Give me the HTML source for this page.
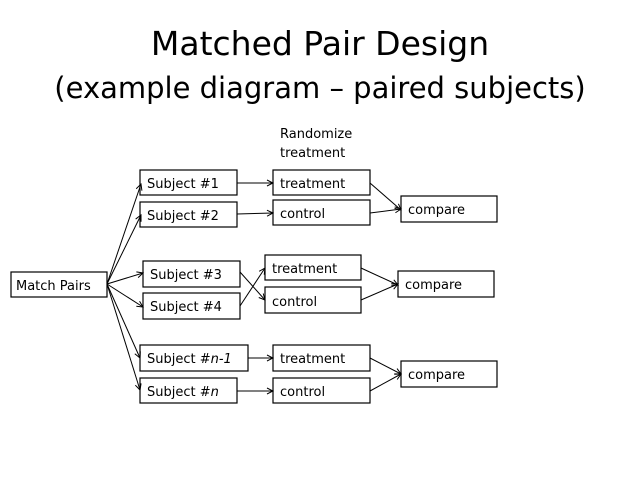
<!DOCTYPE html>
<html><head><meta charset="utf-8"><style>
body{margin:0;background:#fff;}
svg text{font-family:"DejaVu Sans","Liberation Sans",sans-serif;fill:#000;}
</style></head><body>
<svg width="638" height="479" viewBox="0 0 638 479" xmlns="http://www.w3.org/2000/svg">
<defs><marker id="a" markerWidth="8" markerHeight="8" refX="7" refY="4" orient="auto" markerUnits="userSpaceOnUse"><path d="M1,1 L7,4 L1,7" fill="none" stroke="#000" stroke-width="1"/></marker></defs>
<text x="320" y="55" font-size="33" text-anchor="middle">Matched Pair Design</text>
<text x="320" y="98" font-size="29" text-anchor="middle">(example diagram – paired subjects)</text>
<text x="280" y="138" font-size="13">Randomize</text>
<text x="280" y="157" font-size="13">treatment</text>
<g fill="none" stroke="#000" stroke-width="1.2">
<rect x="11" y="272" width="96" height="25"/>
<rect x="140" y="170" width="97" height="25"/>
<rect x="140" y="202" width="97" height="25"/>
<rect x="143" y="261" width="97" height="26"/>
<rect x="143" y="293" width="97" height="26"/>
<rect x="140" y="345" width="108" height="26"/>
<rect x="140" y="378" width="97" height="25"/>
<rect x="273" y="170" width="97" height="25"/>
<rect x="273" y="200" width="97" height="25"/>
<rect x="265" y="255" width="96" height="25"/>
<rect x="265" y="287" width="96" height="26"/>
<rect x="273" y="345" width="97" height="26"/>
<rect x="273" y="378" width="97" height="25"/>
<rect x="401" y="196" width="96" height="26"/>
<rect x="398" y="271" width="96" height="26"/>
<rect x="401" y="361" width="96" height="26"/>
</g>
<g stroke="#000" stroke-width="1" marker-end="url(#a)">
<line x1="107" y1="284" x2="141" y2="184"/>
<line x1="107" y1="284" x2="141" y2="215"/>
<line x1="107" y1="284" x2="143" y2="273"/>
<line x1="107" y1="284" x2="143" y2="307"/>
<line x1="107" y1="284" x2="140" y2="358"/>
<line x1="107" y1="284" x2="140" y2="390"/>
<line x1="237" y1="183" x2="273" y2="183"/>
<line x1="237" y1="214" x2="273" y2="213"/>
<line x1="248" y1="358" x2="273" y2="358"/>
<line x1="237" y1="391" x2="273" y2="391"/>
<line x1="240" y1="272" x2="265" y2="300"/>
<line x1="240" y1="306" x2="265" y2="268"/>
<line x1="370" y1="183" x2="401" y2="210"/>
<line x1="370" y1="213" x2="401" y2="209"/>
<line x1="361" y1="268" x2="398" y2="285"/>
<line x1="361" y1="300" x2="398" y2="284"/>
<line x1="370" y1="358" x2="401" y2="374"/>
<line x1="370" y1="391" x2="401" y2="374"/>
</g>
<g font-size="13">
<text x="16" y="290">Match Pairs</text>
<text x="147" y="188">Subject #1</text>
<text x="147" y="220">Subject #2</text>
<text x="150" y="279">Subject #3</text>
<text x="150" y="311">Subject #4</text>
<text x="147" y="363">Subject #<tspan font-style="italic">n-1</tspan></text>
<text x="147" y="396">Subject #<tspan font-style="italic">n</tspan></text>
<text x="280" y="188">treatment</text>
<text x="280" y="218">control</text>
<text x="272" y="273">treatment</text>
<text x="272" y="306">control</text>
<text x="280" y="363">treatment</text>
<text x="280" y="396">control</text>
<text x="408" y="214">compare</text>
<text x="405" y="289">compare</text>
<text x="408" y="379">compare</text>
</g>
</svg>
</body></html>
